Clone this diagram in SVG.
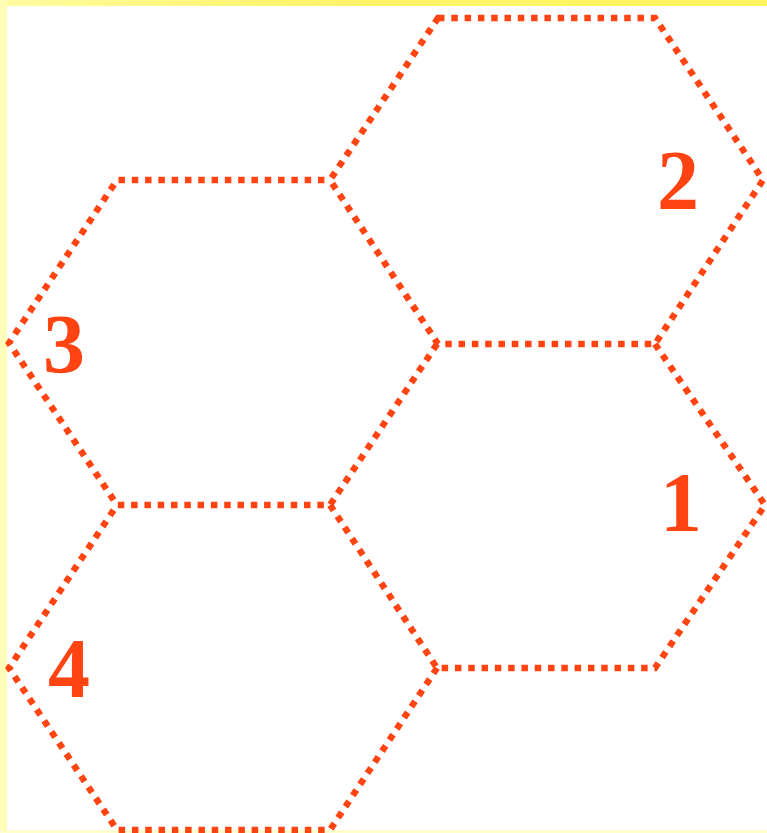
<svg xmlns="http://www.w3.org/2000/svg" width="767" height="833" viewBox="0 0 767 833">
<defs>
<linearGradient id="topg" x1="0" y1="0" x2="1" y2="0">
<stop offset="0" stop-color="#FFFBA0"/>
<stop offset="0.4" stop-color="#FFF46A"/>
<stop offset="1" stop-color="#FFF560"/>
</linearGradient>
</defs>
<style>
.hex{fill:none;stroke:#FF4412;stroke-width:6.5;stroke-dasharray:6.5 6.8;stroke-linejoin:miter}
.lbl{font-family:"Liberation Serif","Times New Roman",serif;font-weight:bold;font-size:84px;fill:#FF4412;text-anchor:middle}
</style>
<rect x="0" y="0" width="767" height="833" fill="#FFFFFF"/>
<rect x="0" y="0" width="767" height="6" fill="url(#topg)"/>
<rect x="0" y="0" width="7" height="833" fill="#FFFDB8"/>
<rect x="0" y="830" width="767" height="3" fill="#FFFFCC"/>
<g id="hex2">
<polygon class="hex" points="438,18 655,18 763,180 655,344 438,344 330,180"/>
<text class="lbl" x="678" y="209">2</text>
</g>
<g id="hex3">
<path class="hex" d="M437,344 L330,505 L117,505 L9,343 L117,180 L330,180"/>
<text class="lbl" x="64" y="373">3</text>
</g>
<g id="hex1">
<path class="hex" d="M655,344 L765,505 L655,668 L437,668 L330,505"/>
<text class="lbl" x="681" y="531">1</text>
</g>
<g id="hex4">
<path class="hex" d="M437,668 L330,830 L117,830 L9,668 L117,505"/>
<text class="lbl" x="69" y="697">4</text>
</g>
<g id="connectors"/>
</svg>
